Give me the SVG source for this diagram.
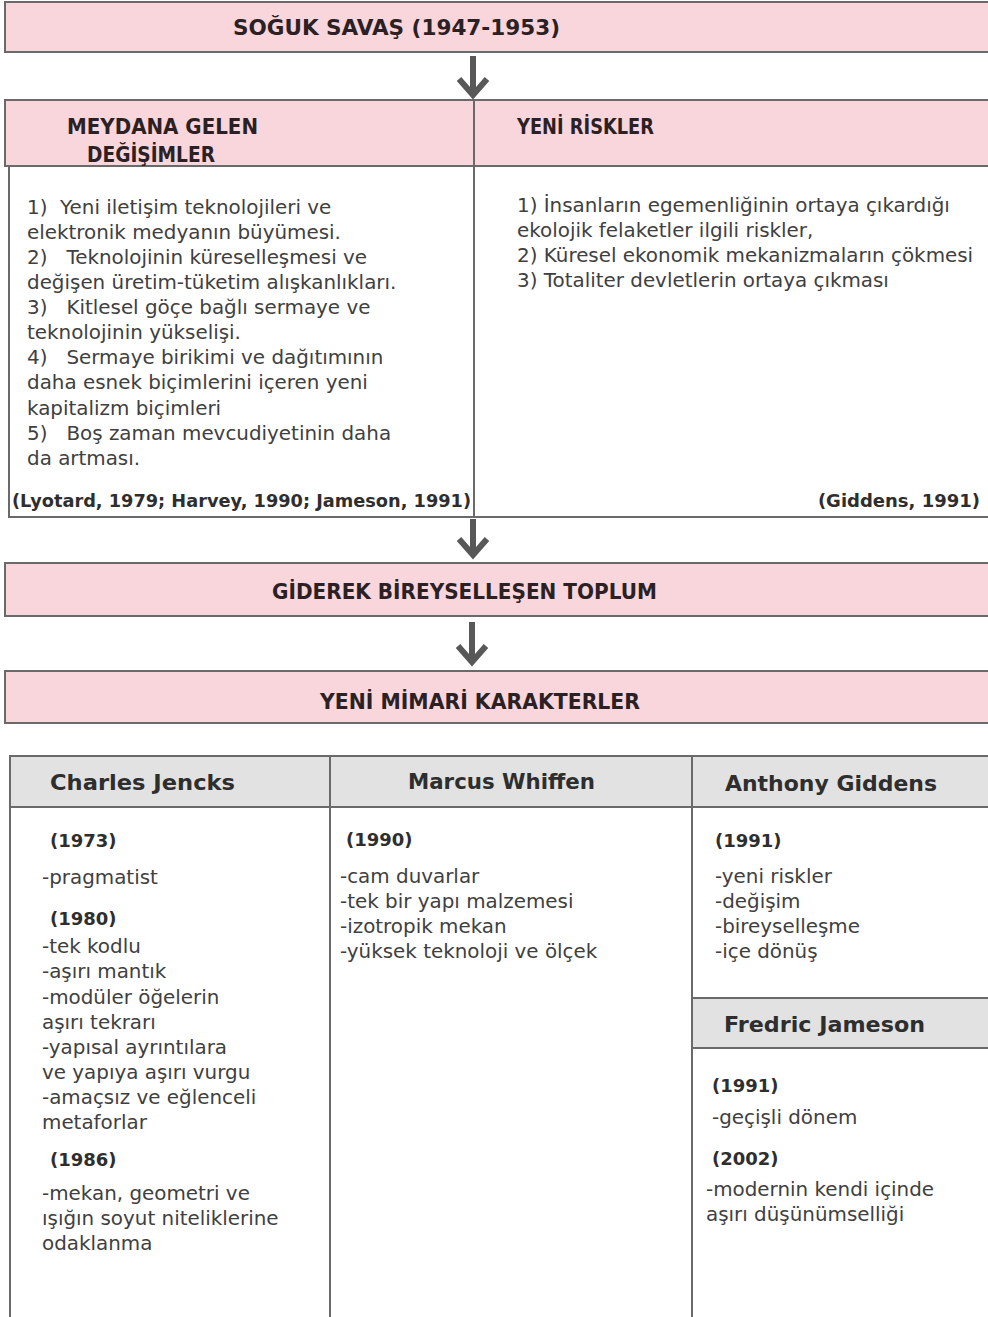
<svg xmlns="http://www.w3.org/2000/svg" width="988" height="1317" viewBox="0 0 988 1317">
  <style>
    .pink { fill: #f8d6db; stroke: #6a6a6a; stroke-width: 2; }
    .grey { fill: #e2e2e2; stroke: #6a6a6a; stroke-width: 2; }
    .line { fill: none; stroke: #6a6a6a; stroke-width: 2; }
    .head { font-family: "DejaVu Sans", "Liberation Sans", sans-serif; font-weight: bold; font-size: 21.5px; fill: #2b2124; }
    .body { font-family: "DejaVu Sans", "Liberation Sans", sans-serif; font-size: 19.9px; fill: #404040; }
    .bold { font-family: "DejaVu Sans", "Liberation Sans", sans-serif; font-weight: bold; font-size: 18px; fill: #2e2e2e; }
    .name { font-family: "DejaVu Sans", "Liberation Sans", sans-serif; font-weight: bold; font-size: 22px; fill: #2e2e2e; }
    .arrow { fill: none; stroke: #585858; stroke-width: 6; }
  </style>

  <rect x="0" y="0" width="988" height="1317" fill="#ffffff"/>

  <!-- Cold war header -->
  <g id="soguk-savas">
    <rect class="pink" x="5" y="2" width="990" height="50"/>
    <text class="head" x="233" y="35" textLength="327" lengthAdjust="spacingAndGlyphs">SOĞUK SAVAŞ (1947-1953)</text>
  </g>

  <!-- Changes and new risks -->
  <g id="degisimler-riskler">
    <rect class="pink" x="5" y="100" width="990" height="66"/>
    <rect class="line" x="9" y="166" width="990" height="351"/>
    <line class="line" x1="474" y1="100" x2="474" y2="517"/>
    <text class="head" x="67" y="134" textLength="191" lengthAdjust="spacingAndGlyphs">MEYDANA GELEN</text>
    <text class="head" x="87" y="162" textLength="128" lengthAdjust="spacingAndGlyphs">DEĞİŞİMLER</text>
    <text class="head" x="517" y="134" textLength="137" lengthAdjust="spacingAndGlyphs">YENİ RİSKLER</text>

    <g class="body">
      <text x="27" y="214" xml:space="preserve">1)  Yeni iletişim teknolojileri ve</text>
      <text x="27" y="239">elektronik medyanın büyümesi.</text>
      <text x="27" y="264" xml:space="preserve">2)   Teknolojinin küreselleşmesi ve</text>
      <text x="27" y="289">değişen üretim-tüketim alışkanlıkları.</text>
      <text x="27" y="314" xml:space="preserve">3)   Kitlesel göçe bağlı sermaye ve</text>
      <text x="27" y="339">teknolojinin yükselişi.</text>
      <text x="27" y="364" xml:space="preserve">4)   Sermaye birikimi ve dağıtımının</text>
      <text x="27" y="389">daha esnek biçimlerini içeren yeni</text>
      <text x="27" y="415">kapitalizm biçimleri</text>
      <text x="27" y="440" xml:space="preserve">5)   Boş zaman mevcudiyetinin daha</text>
      <text x="27" y="465">da artması.</text>

      <text x="517" y="212">1) İnsanların egemenliğinin ortaya çıkardığı</text>
      <text x="517" y="237">ekolojik felaketler ilgili riskler,</text>
      <text x="517" y="262">2) Küresel ekonomik mekanizmaların çökmesi</text>
      <text x="517" y="287">3) Totaliter devletlerin ortaya çıkması</text>
    </g>
    <text class="bold" x="12" y="507" textLength="459" lengthAdjust="spacingAndGlyphs">(Lyotard, 1979; Harvey, 1990; Jameson, 1991)</text>
    <text class="bold" x="980" y="507" text-anchor="end">(Giddens, 1991)</text>
  </g>

  <!-- Individualising society -->
  <g id="bireysellesen-toplum">
    <rect class="pink" x="5" y="563" width="990" height="53"/>
    <text class="head" x="272" y="599" textLength="385" lengthAdjust="spacingAndGlyphs">GİDEREK BİREYSELLEŞEN TOPLUM</text>
  </g>

  <!-- New architectural characters -->
  <g id="mimari-karakterler">
    <rect class="pink" x="5" y="671" width="990" height="52"/>
    <text class="head" x="320" y="709" textLength="320" lengthAdjust="spacingAndGlyphs">YENİ MİMARİ KARAKTERLER</text>
  </g>

  <!-- Downward arrows between the stages -->
  <g id="connectors">
    <path class="arrow" d="M473 56 V94 M459 79 L473 95 L487 79"/>
    <path class="arrow" d="M473 519 V554 M459 539 L473 555 L487 539"/>
    <path class="arrow" d="M472 622 V661 M458 646 L472 662 L486 646"/>
  </g>

  <!-- Comparison table of authors -->
  <g id="tablo">
    <rect class="grey" x="10" y="756" width="990" height="51"/>
    <rect class="line" x="10" y="756" width="990" height="570"/>
    <line class="line" x1="330" y1="756" x2="330" y2="1317"/>
    <line class="line" x1="692" y1="756" x2="692" y2="1317"/>
  </g>

  <g id="charles-jencks">
    <text class="name" x="50" y="790" textLength="185" lengthAdjust="spacingAndGlyphs">Charles Jencks</text>
    <text class="bold" x="50" y="847">(1973)</text>
    <text class="body" x="42" y="884">-pragmatist</text>
    <text class="bold" x="50" y="925">(1980)</text>
    <g class="body">
      <text x="42" y="953">-tek kodlu</text>
      <text x="42" y="978">-aşırı mantık</text>
      <text x="42" y="1004">-modüler öğelerin</text>
      <text x="42" y="1029">aşırı tekrarı</text>
      <text x="42" y="1054">-yapısal ayrıntılara</text>
      <text x="42" y="1079">ve yapıya aşırı vurgu</text>
      <text x="42" y="1104">-amaçsız ve eğlenceli</text>
      <text x="42" y="1129">metaforlar</text>
    </g>
    <text class="bold" x="50" y="1166">(1986)</text>
    <g class="body">
      <text x="42" y="1200">-mekan, geometri ve</text>
      <text x="42" y="1225">ışığın soyut niteliklerine</text>
      <text x="42" y="1250">odaklanma</text>
    </g>
  </g>

  <g id="marcus-whiffen">
    <text class="name" x="408" y="789" textLength="187" lengthAdjust="spacingAndGlyphs">Marcus Whiffen</text>
    <text class="bold" x="346" y="846">(1990)</text>
    <g class="body">
      <text x="340" y="883">-cam duvarlar</text>
      <text x="340" y="908">-tek bir yapı malzemesi</text>
      <text x="340" y="933">-izotropik mekan</text>
      <text x="340" y="958">-yüksek teknoloji ve ölçek</text>
    </g>
  </g>

  <g id="anthony-giddens">
    <text class="name" x="725" y="791" textLength="212" lengthAdjust="spacingAndGlyphs">Anthony Giddens</text>
    <text class="bold" x="715" y="847">(1991)</text>
    <g class="body">
      <text x="715" y="883">-yeni riskler</text>
      <text x="715" y="908">-değişim</text>
      <text x="715" y="933">-bireyselleşme</text>
      <text x="715" y="958">-içe dönüş</text>
    </g>
  </g>

  <g id="fredric-jameson">
    <rect class="grey" x="692" y="998" width="300" height="50"/>
    <text class="name" x="724" y="1032" textLength="201" lengthAdjust="spacingAndGlyphs">Fredric Jameson</text>
    <text class="bold" x="712" y="1092">(1991)</text>
    <text class="body" x="712" y="1124">-geçişli dönem</text>
    <text class="bold" x="712" y="1165">(2002)</text>
    <g class="body">
      <text x="706" y="1196">-modernin kendi içinde</text>
      <text x="706" y="1221">aşırı düşünümselliği</text>
    </g>
  </g>
</svg>
